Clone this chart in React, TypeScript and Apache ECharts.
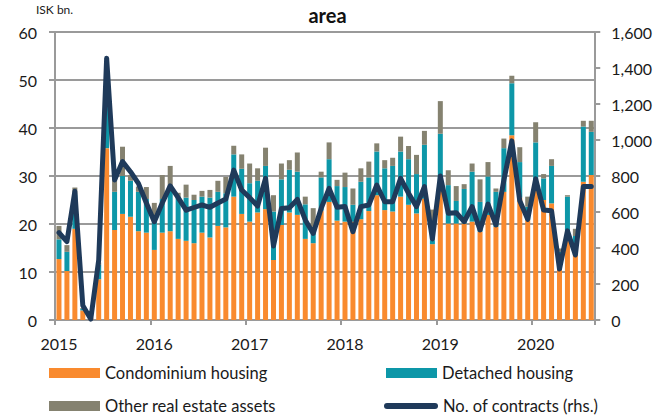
import React, { useEffect, useRef } from "react";
import * as echarts from "echarts";

const years = [2015, 2016, 2017, 2018, 2019, 2020];
const months: string[] = [];
years.forEach((y) => {
  for (let m = 1; m <= 12; m++) {
    if (y === 2020 && m > 8) break;
    months.push(`${y}-${m < 10 ? "0" + m : m}`);
  }
});

const condo = [12.7, 10.2, 19, 2, 0.5, 8.5, 35.8, 18.75, 22.1, 21.5, 18.5, 18.2,
  14.6, 18.2, 18.5, 16.9, 16.5, 16, 18.2, 17.2, 19.6, 19.3, 25.7, 22.1,
  20.5, 22.4, 23.1, 12.5, 19.8, 22.4, 21.9, 16.9, 16, 22.8, 24.6, 20.7,
  20.5, 20.5, 21, 22.7, 26, 22.9, 22.6, 25.7, 24, 22.2, 25.3, 15.8,
  27, 20.1, 20.1, 20.1, 20.5, 18.4, 21.9, 19.4, 26.7, 38.5, 25.5, 20.8,
  27, 25, 24.3, 10.4, 18.5, 13.5, 28.8, 30.2];

const detached = [4.1, 4.0, 7.1, 0.3, 0, 3, 9.5, 7.95, 7.9, 7.5, 8.2, 7,
  7, 7, 9.2, 8.6, 9, 9, 7.5, 8.3, 7.1, 7.1, 8.8, 9.4,
  8, 6.6, 9, 10.1, 9.5, 8.9, 9, 7.2, 3.4, 6.9, 8.9, 7.2,
  7.2, 3.5, 7.8, 7, 9.1, 8.7, 9.5, 9.4, 9.5, 8.2, 11.2, 0.8,
  11.8, 8, 4.7, 7.2, 10.4, 6.2, 8, 7.3, 9.1, 10.8, 7.4, 2.8,
  10, 4.5, 7.8, 3.8, 7.2, 4, 11.5, 9];

const other = [2.8, 1.4, 1.5, 0.2, 0, 0.5, 1.5, 3.2, 6.1, 1.2, 1.1, 2.5,
  2.8, 5, 4.4, 1, 2.7, 1.1, 1.2, 1.6, 2.3, 3.4, 1.8, 3,
  4.1, 2.6, 3.8, 3.4, 3.3, 2, 4, 1.6, 3.9, 1.2, 3.5, 1.3,
  3, 3.4, 2.8, 3.3, 1.7, 1.7, 1.7, 3.1, 2.75, 4, 2.9, 6.4,
  6.8, 3.1, 3.1, 1, 1.7, 4.7, 3, 0.7, 2, 1.6, 3.1, 2.1,
  4.2, 0.9, 1.4, 0.7, 0.3, 1.5, 1.2, 2.3];

const contracts = [485, 435, 715, 80, 5, 333, 1454, 778, 880, 824, 759, 650,
  546, 650, 745, 680, 610, 625, 639, 626, 650, 672, 833, 722,
  680, 633, 787, 411, 620, 624, 670, 556, 481, 620, 731, 626,
  630, 491, 630, 639, 750, 657, 657, 787, 704, 630, 741, 450,
  800, 593, 596, 546, 630, 500, 644, 528, 778, 995, 662, 559,
  784, 611, 607, 283, 495, 361, 741, 741];

const FONT = "Lato";
const GRID_COLOR = "#9a9a9a";
const TEXT_COLOR = "#1a1a1a";

export default function App() {
  const ref = useRef<HTMLDivElement>(null);
  useEffect(() => {
    document.body.style.margin = "0";
    if (!ref.current) return;
    const chart = echarts.init(ref.current, null, { renderer: "svg" });
    const legendText = { fontFamily: FONT, fontSize: 16.5, color: TEXT_COLOR, lineHeight: 18 };
    chart.setOption({
      animation: false,
      textStyle: { fontFamily: FONT },
      title: {
        text: "area",
        left: "center",
        top: 0,
        textStyle: { fontFamily: FONT, fontSize: 20, fontWeight: "bold", color: "#111" },
      },
      graphic: [
        {
          type: "text",
          left: 36,
          top: 3,
          style: { text: "ISK bn.", fontFamily: FONT, fontSize: 12, fill: TEXT_COLOR },
        },
      ],
      grid: { left: 55, right: 53, top: 32, bottom: 98 },
      legend: [
        { left: 49, top: 364, padding: 0, icon: "rect", itemWidth: 51, itemHeight: 10, data: ["Condominium housing"], textStyle: legendText },
        { left: 386, top: 364, padding: 0, icon: "rect", itemWidth: 51, itemHeight: 10, data: ["Detached housing"], textStyle: legendText },
        { left: 49, top: 397, padding: 0, icon: "rect", itemWidth: 51, itemHeight: 10, data: ["Other real estate assets"], textStyle: legendText },
        {
          left: 384, top: 397, padding: 0, itemWidth: 54, itemHeight: 6,
          icon: "path://M3,0 L51,0 A3,3 0 0 1 51,6 L3,6 A3,3 0 0 1 3,0 Z",
          data: ["No. of contracts (rhs.)"], textStyle: legendText,
        },
      ],
      xAxis: {
        type: "category",
        data: months,
        boundaryGap: true,
        axisLine: { lineStyle: { color: GRID_COLOR, width: 2 } },
        axisTick: { show: true, interval: 11, length: 5, lineStyle: { color: GRID_COLOR, width: 2 } },
        axisLabel: {
          interval: 11,
          formatter: (v: string) => v.slice(0, 4),
          fontFamily: FONT,
          fontSize: 16,
          color: TEXT_COLOR,
          margin: 15,
        },
      },
      yAxis: [
        {
          type: "value",
          min: 0,
          max: 60,
          interval: 10,
          axisLine: { show: true, lineStyle: { color: GRID_COLOR, width: 2 } },
          axisTick: { show: true, length: 6, lineStyle: { color: GRID_COLOR, width: 2 } },
          splitLine: { lineStyle: { color: GRID_COLOR, width: 2 } },
          axisLabel: { fontFamily: FONT, fontSize: 16, color: TEXT_COLOR, margin: 18 },
        },
        {
          type: "value",
          min: 0,
          max: 1600,
          interval: 200,
          position: "right",
          axisLine: { show: true, lineStyle: { color: GRID_COLOR, width: 2 } },
          axisTick: { show: true, length: 5, lineStyle: { color: GRID_COLOR, width: 2 } },
          splitLine: { show: false },
          axisLabel: {
            fontFamily: FONT,
            fontSize: 16,
            color: TEXT_COLOR,
            margin: 16,
            formatter: (v: number) => v.toLocaleString("en-US"),
          },
        },
      ],
      series: [
        { name: "Condominium housing", type: "bar", stack: "a", barWidth: 5, data: condo, itemStyle: { color: "#F98A2E" } },
        { name: "Detached housing", type: "bar", stack: "a", barWidth: 5, data: detached, itemStyle: { color: "#0D97A8" } },
        { name: "Other real estate assets", type: "bar", stack: "a", barWidth: 5, data: other, itemStyle: { color: "#858270" } },
        {
          name: "No. of contracts (rhs.)",
          type: "line",
          yAxisIndex: 1,
          data: contracts,
          symbol: "none",
          z: 5,
          itemStyle: { color: "#1F3A5A" },
          lineStyle: { color: "#1F3A5A", width: 5, join: "round", cap: "round" },
        },
      ],
    });
    return () => chart.dispose();
  }, []);
  return <div ref={ref} style={{ width: 655, height: 418 }} />;
}
